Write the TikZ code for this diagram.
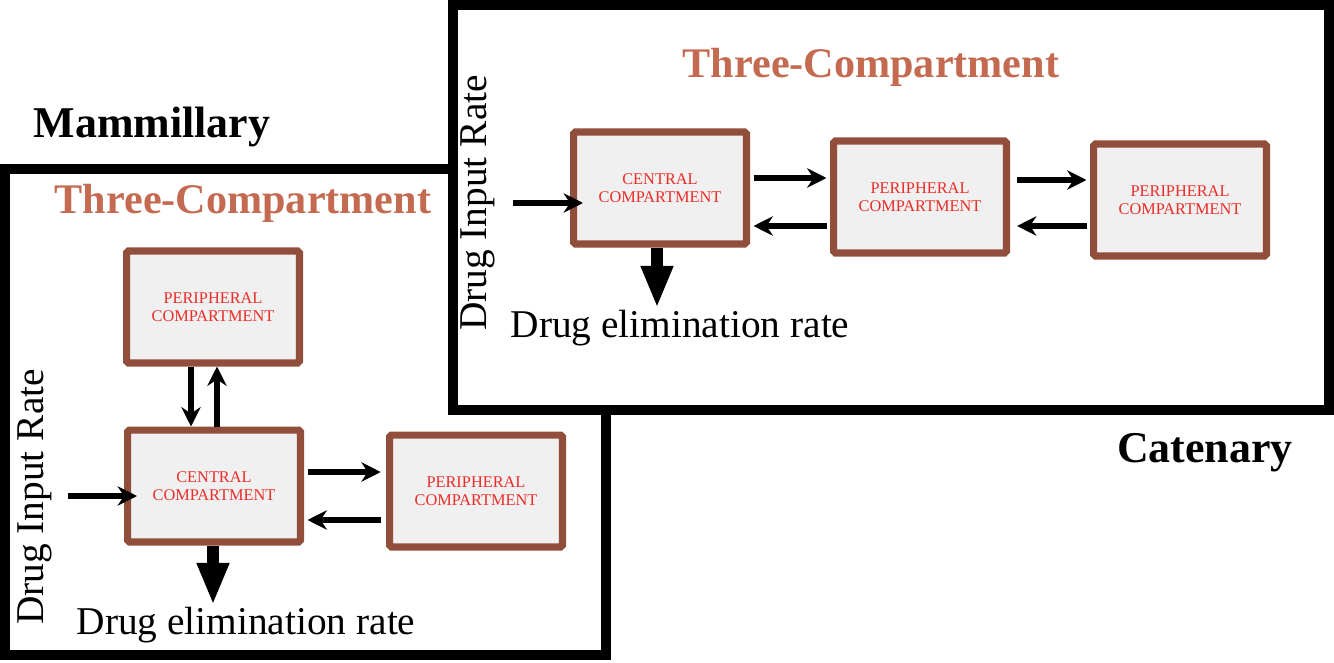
\documentclass[tikz,border=0pt]{standalone}
\usepackage{fontspec}
\setmainfont{Liberation Serif}
\usetikzlibrary{arrows.meta}
\definecolor{boxbrown}{RGB}{145,78,58}
\definecolor{titlebrown}{RGB}{196,106,80}
\definecolor{labelred}{RGB}{235,45,40}
\begin{document}
\begin{tikzpicture}[x=0.02cm,y=-0.02cm,
  comp/.style={draw=boxbrown,line width=4pt,fill=gray!12,rounded corners=1pt,
    minimum width=3.46cm,minimum height=2.24cm,align=center,text=labelred,
    font=\fontsize{9.3}{10.3}\selectfont},
  frame/.style={draw=black,line width=6pt},
  flow/.style={-{Stealth[length=11pt,width=11pt]},line width=3pt},
  elim/.style={-{Triangle[length=24pt,width=17pt]},line width=7pt},
  title/.style={text=titlebrown,font=\fontsize{24}{28}\bfseries\selectfont},
  kind/.style={font=\fontsize{25}{30}\bfseries\selectfont},
  lbl/.style={font=\fontsize{22.4}{26}\selectfont}]
\useasboundingbox (0,0) rectangle (1334,662);
% mammillary model
\draw[frame] (5,169) rectangle (606,655);
\node[kind] (mam) at (152,127) {Mammillary};
\node[title] (t1) at (243,203) {Three-Compartment};
\node[comp] (pt) at (213,307) {PERIPHERAL\\COMPARTMENT};
\node[comp] (cl) at (214,486) {CENTRAL\\COMPARTMENT};
\node[comp] (pr) at (476,491) {PERIPHERAL\\COMPARTMENT};
\draw[flow] ([xshift=-0.44cm]pt.south) -- ([xshift=-0.44cm]pt.south |- cl.north);
\draw[flow] ([xshift=0.06cm]cl.north) -- ([xshift=0.06cm]cl.north |- pt.south);
\draw[flow,shorten <=2pt,shorten >=3pt] ([yshift=0.28cm]cl.east) -- ([yshift=0.28cm]cl.east -| pr.west);
\draw[flow,shorten <=3pt,shorten >=2pt] ([yshift=-0.68cm]cl.east -| pr.west) -- ([yshift=-0.68cm]cl.east);
\node[lbl,rotate=90] (in1) at (35,497) {Drug Input Rate};
\coordinate (src1) at (68,496);
\draw[flow,shorten >=-0.26cm] (src1) -- (src1 -| cl.west);
\coordinate (out1) at (213,605);
\draw[elim] (cl.south -| out1) -- (out1);
\node[lbl] (el1) at (246,625) {Drug elimination rate};
% catenary model
\draw[frame,fill=white] (453,5) rectangle (1329,410);
\node[kind] (cat) at (1205,453) {Catenary};
\node[title] (t2) at (871,67) {Three-Compartment};
\node[comp] (c1) at (660,188) {CENTRAL\\COMPARTMENT};
\node[comp] (p1) at (920,197) {PERIPHERAL\\COMPARTMENT};
\node[comp] (p2) at (1180,200) {PERIPHERAL\\COMPARTMENT};
\draw[flow,shorten <=2pt,shorten >=2pt] ([yshift=0.2cm]c1.east) -- ([yshift=0.2cm]c1.east -| p1.west);
\draw[flow,shorten <=2pt,shorten >=2pt] ([yshift=-0.76cm]c1.east -| p1.west) -- ([yshift=-0.76cm]c1.east);
\draw[flow,shorten <=4pt,shorten >=2pt] ([yshift=0.34cm]p1.east) -- ([yshift=0.34cm]p1.east -| p2.west);
\draw[flow,shorten <=2pt,shorten >=4pt] ([yshift=-0.58cm]p1.east -| p2.west) -- ([yshift=-0.58cm]p1.east);
\node[lbl,rotate=90] (in2) at (478,203) {Drug Input Rate};
\coordinate (src2) at (513,203);
\draw[flow,shorten >=-0.26cm] (src2) -- (src2 -| c1.west);
\coordinate (out2) at (657,308);
\draw[elim] (c1.south -| out2) -- (out2);
\node[lbl] (el2) at (680,328) {Drug elimination rate};
\end{tikzpicture}
\end{document}
